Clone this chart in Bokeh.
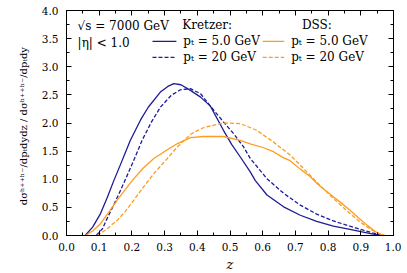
from bokeh.plotting import figure
from bokeh.models import (Range1d, LinearAxis, SingleIntervalTicker, PrintfTickFormatter,
                          CustomJSTickFormatter, Label)
from bokeh.embed import file_html
from bokeh.resources import INLINE

# ---- data ----
kretzer_5_z = [0.057, 0.08, 0.104, 0.125, 0.145, 0.165, 0.195, 0.226, 0.25, 0.287, 0.31, 0.328, 0.35,
               0.379, 0.41, 0.44, 0.48, 0.505, 0.531, 0.562, 0.577, 0.613, 0.664, 0.715, 0.765, 0.816,
               0.867, 0.90, 0.93, 0.96]
kretzer_5_v = [0.0, 0.15, 0.39, 0.68, 0.98, 1.26, 1.69, 2.05, 2.28, 2.55, 2.65, 2.70, 2.68,
               2.58, 2.46, 2.30, 1.87, 1.62, 1.40, 1.13, 0.98, 0.72, 0.51, 0.36, 0.25, 0.165,
               0.11, 0.07, 0.035, 0.0]

kretzer_20_z = [0.091, 0.11, 0.124, 0.145, 0.165, 0.185, 0.206, 0.231, 0.26, 0.287, 0.32, 0.348,
                0.379, 0.41, 0.44, 0.48, 0.511, 0.541, 0.562, 0.613, 0.664, 0.715, 0.765, 0.816,
                0.867, 0.91, 0.94, 0.965]
kretzer_20_v = [0.0, 0.12, 0.30, 0.55, 0.80, 1.06, 1.34, 1.69, 2.02, 2.28, 2.49, 2.59,
                2.61, 2.52, 2.30, 2.02, 1.81, 1.58, 1.37, 1.01, 0.75, 0.54, 0.38, 0.26,
                0.165, 0.09, 0.04, 0.0]

dss_5_z = [0.058, 0.08, 0.104, 0.13, 0.155, 0.18, 0.206, 0.235, 0.267, 0.307, 0.338, 0.379, 0.42,
           0.48, 0.531, 0.562, 0.603, 0.633, 0.664, 0.684, 0.715, 0.745, 0.765, 0.79, 0.816, 0.84,
           0.867, 0.898, 0.92, 0.949, 0.97]
dss_5_v = [0.0, 0.08, 0.21, 0.42, 0.63, 0.82, 1.01, 1.20, 1.37, 1.52, 1.63, 1.74, 1.76,
           1.76, 1.69, 1.63, 1.56, 1.49, 1.38, 1.33, 1.18, 1.05, 0.93, 0.81, 0.69, 0.58,
           0.45, 0.29, 0.18, 0.05, 0.0]

dss_20_z = [0.094, 0.12, 0.155, 0.18, 0.206, 0.235, 0.267, 0.307, 0.338, 0.379, 0.42, 0.48, 0.531,
            0.582, 0.633, 0.684, 0.715, 0.765, 0.816, 0.867, 0.898, 0.93, 0.955, 0.975]
dss_20_v = [0.0, 0.10, 0.27, 0.43, 0.63, 0.86, 1.10, 1.36, 1.57, 1.80, 1.92, 2.0, 1.99,
            1.87, 1.66, 1.43, 1.25, 0.95, 0.66, 0.39, 0.24, 0.11, 0.04, 0.0]

x_tick_step = 0.1
y_tick_step = 0.5

NAVY = "#1c1c96"
ORANGE = "#ff9c1e"
FONT = "DejaVu Serif"

p = figure(x_range=Range1d(0, 1), y_range=Range1d(0, 4),
           frame_width=327, frame_height=225,
           min_border_left=66, min_border_top=10, min_border_right=8, min_border_bottom=4,
           output_backend="svg", toolbar_location=None)
p.xgrid.visible = False
p.ygrid.visible = False
p.outline_line_color = "black"
p.outline_line_width = 1
p.background_fill_color = "white"
p.border_fill_color = "white"

def style_axis(ax, labels=True):
    ax.major_tick_in = 5
    ax.major_tick_out = 0
    ax.minor_tick_in = 3
    ax.minor_tick_out = 0
    ax.axis_line_color = "black"
    ax.major_tick_line_color = "black"
    ax.minor_tick_line_color = "black"
    ax.major_label_text_font = FONT
    ax.major_label_text_font_size = "10.5px"
    ax.major_label_text_color = "black"
    ax.axis_label_text_font = FONT
    ax.axis_label_text_color = "black"
    ax.axis_label_text_font_style = "normal"
    if not labels:
        ax.formatter = CustomJSTickFormatter(code="return ''")
        ax.major_label_standoff = 0

p.xaxis.ticker = SingleIntervalTicker(interval=x_tick_step, num_minor_ticks=2)
p.yaxis.ticker = SingleIntervalTicker(interval=y_tick_step, num_minor_ticks=2)
p.xaxis.formatter = PrintfTickFormatter(format="%.1f")
p.yaxis.formatter = PrintfTickFormatter(format="%.1f")
style_axis(p.xaxis[0])
style_axis(p.yaxis[0])
p.xaxis.major_label_standoff = 7
p.yaxis.major_label_standoff = 8
p.xaxis.axis_label = "z"
p.xaxis.axis_label_text_font_style = "italic"
p.xaxis.axis_label_text_font_size = "13px"
p.xaxis.axis_label_standoff = 3
p.yaxis.axis_label = "dσʰ⁺⁺ʰ⁻/dpₜdydz  /  dσʰ⁺⁺ʰ⁻/dpₜdy"
p.yaxis.axis_label_text_font_size = "10px"
p.yaxis.axis_label_standoff = 10

top = LinearAxis(ticker=SingleIntervalTicker(interval=x_tick_step, num_minor_ticks=2))
style_axis(top, labels=False)
p.add_layout(top, "above")
right = LinearAxis(ticker=SingleIntervalTicker(interval=y_tick_step, num_minor_ticks=2))
style_axis(right, labels=False)
p.add_layout(right, "right")

LW = 1.3
p.line(kretzer_5_z, kretzer_5_v, line_color=NAVY, line_width=LW)
p.line(kretzer_20_z, kretzer_20_v, line_color=NAVY, line_width=LW, line_dash="4 2")
p.line(dss_5_z, dss_5_v, line_color=ORANGE, line_width=LW)
p.line(dss_20_z, dss_20_v, line_color=ORANGE, line_width=LW, line_dash="4 2")

# ---- annotations / legend ----
def txt(x, y, s, size="12px", style="normal"):
    p.add_layout(Label(x=x, y=y, text=s, text_font=FONT, text_font_size=size,
                       text_baseline="middle", text_align="left", text_color="black",
                       text_font_style=style))

txt(0.034, 3.72, "√s = 7000 GeV")
txt(0.034, 3.42, "|η| < 1.0")
txt(0.354, 3.735, "Kretzer:")
txt(0.72, 3.735, "DSS:")

legend_rows = [(3.45, "pₜ = 5.0 GeV", None), (3.165, "pₜ = 20 GeV", "4 2")]
for yv, label, dash in legend_rows:
    kw = {} if dash is None else {"line_dash": dash}
    p.line([0.263, 0.336], [yv, yv], line_color=NAVY, line_width=LW, **kw)
    txt(0.357, yv, label)
    p.line([0.60, 0.666], [yv, yv], line_color=ORANGE, line_width=LW, **kw)
    txt(0.687, yv, label)

open("out.html", "w").write(file_html(p, INLINE))
